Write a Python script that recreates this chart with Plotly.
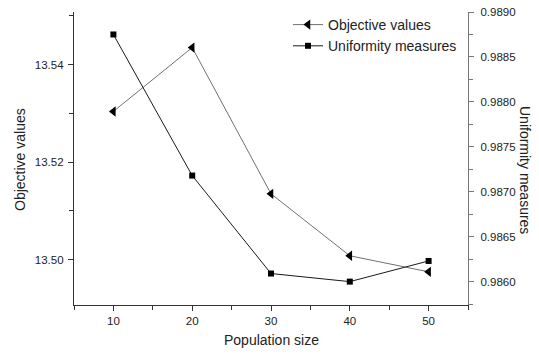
import plotly.graph_objects as go

# Population sizes tested
population = [10, 20, 30, 40, 50]
# Best objective value reached for each population size
objective_values = [13.5304, 13.5435, 13.5135, 13.5008, 13.4975]
# Uniformity measure of the final population
uniformity = [0.98875, 0.98718, 0.98609, 0.98600, 0.98623]

left_ticks = [13.50, 13.52, 13.54]
right_ticks = [0.9860, 0.9865, 0.9870, 0.9875, 0.9880, 0.9885, 0.9890]
x_ticks = [10, 20, 30, 40, 50]

FONT = "Liberation Sans"
TXT = "#222222"
W, H = 539, 354
L, R, T, B = 74, 71, 12, 49
pw, ph = W - L - R, H - T - B


def px_x(x):
    return (x - L) / pw


def px_y(y):
    return (H - B - y) / ph


fig = go.Figure()
fig.add_trace(go.Scatter(
    x=population, y=objective_values, name="Objective values",
    mode="lines+markers",
    line=dict(color="#707070", width=1),
    marker=dict(symbol="triangle-left", size=9, color="black"),
    yaxis="y",
))
fig.add_trace(go.Scatter(
    x=population, y=uniformity, name="Uniformity measures",
    mode="lines+markers",
    line=dict(color="#1a1a1a", width=1),
    marker=dict(symbol="square", size=6, color="black"),
    yaxis="y2",
))

axis_common = dict(
    showgrid=False, zeroline=False, showline=True, linecolor="#333333",
    linewidth=1.3, ticks="outside", ticklen=5, tickcolor="#333333",
    tickfont=dict(family=FONT, size=11.5, color=TXT), automargin=False,
)

fig.update_layout(
    width=W, height=H,
    margin=dict(l=L, r=R, t=T, b=B, pad=0, autoexpand=False),
    paper_bgcolor="white", plot_bgcolor="white",
    showlegend=True,
    legend=dict(x=px_x(288), y=px_y(9), xanchor="left", yanchor="top",
                bgcolor="rgba(0,0,0,0)", font=dict(family=FONT, size=14, color=TXT),
                tracegroupgap=0, itemwidth=30),
    xaxis=dict(range=[5, 55], tickvals=x_ticks, ticktext=[str(v) for v in x_ticks],
               minor=dict(dtick=5, ticks="outside", ticklen=4, tickcolor="#333333"),
               **axis_common),
    xaxis2=dict(range=[5, 55], overlaying="x", side="top", showgrid=False, zeroline=False,
                showline=True, linecolor="black", linewidth=1.3, ticks="inside", ticklen=3,
                tickvals=[10, 15, 20, 25, 30, 35, 40, 45, 50], showticklabels=False,
                tickcolor="#333333", automargin=False),
    yaxis=dict(range=[13.4907, 13.5508], tickvals=left_ticks,
               ticktext=[f"{v:.2f}" for v in left_ticks],
               minor=dict(dtick=0.01, ticks="outside", ticklen=4, tickcolor="#333333"),
               ticklabelstandoff=2,
               **axis_common),
    yaxis2=dict(range=[0.98574, 0.9890], overlaying="y", side="right", anchor="x",
                tickvals=right_ticks, ticktext=[f"{v:.4f}" for v in right_ticks],
                minor=dict(dtick=0.00025, ticks="outside", ticklen=4, tickcolor="#777777"),
                ticklabelstandoff=4,
                **{**axis_common, "linecolor": "#777777", "tickcolor": "#777777"}),
    annotations=[
        dict(text="Population size", x=0.5, y=px_y(340), xref="paper", yref="paper",
             xanchor="center", yanchor="middle", showarrow=False,
             font=dict(family=FONT, size=14, color=TXT)),
        dict(text="Objective values", x=px_x(20), y=px_y(160), xref="paper", yref="paper",
             xanchor="center", yanchor="middle", showarrow=False, textangle=-90,
             font=dict(family=FONT, size=14, color=TXT)),
        dict(text="Uniformity measures", x=px_x(525), y=px_y(170), xref="paper", yref="paper",
             xanchor="center", yanchor="middle", showarrow=False, textangle=90,
             font=dict(family=FONT, size=14, color=TXT)),
    ],
)

fig.write_html("out.html")
